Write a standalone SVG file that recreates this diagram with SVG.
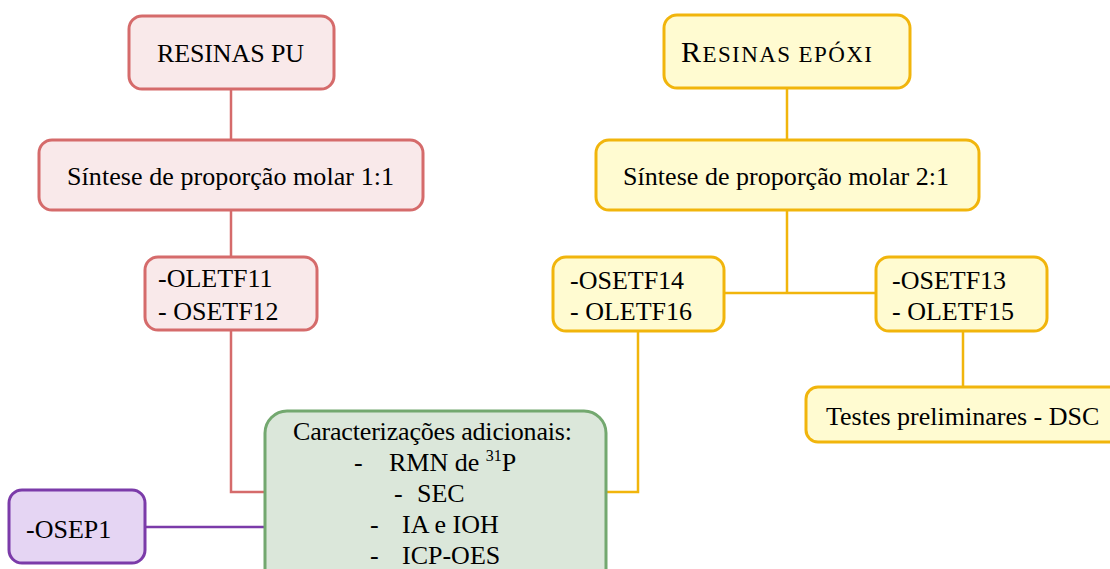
<svg xmlns="http://www.w3.org/2000/svg" width="1110" height="569" viewBox="0 0 1110 569">
<style>
text{font-family:"Liberation Serif","Times New Roman",serif;font-size:26px;fill:#000}
.r{fill:#f9e9ea;stroke:#d56b6b;stroke-width:3}
.y{fill:#fffbd1;stroke:#f1b50c;stroke-width:3}
.g{fill:#dbe7da;stroke:#73a86f;stroke-width:3}
.p{fill:#e5d5f3;stroke:#7b3ba9;stroke-width:3}
.lr{stroke:#d56b6b;stroke-width:2.5;fill:none}
.ly{stroke:#f1b50c;stroke-width:2.5;fill:none}
.lp{stroke:#7b3ba9;stroke-width:2.5;fill:none}
</style>
<rect width="1110" height="569" fill="#fff"/>
<g id="connectors">
<path class="lr" d="M231 89V140M231 210V257M231 330V492H265"/>
<path class="lp" d="M145 527H265"/>
<path class="ly" d="M787 89V140M787 210V293M724 293H876M638 331V492H606M963 331V387"/>
</g>
<g id="resinas-pu"><rect class="r" x="129" y="16" width="205" height="73" rx="13"/><text x="157" y="62" textLength="147">RESINAS PU</text></g>
<g id="sintese-11"><rect class="r" x="39" y="140" width="384" height="70" rx="13"/><text x="67" y="185" textLength="327">Síntese de proporção molar 1:1</text></g>
<g id="pu-amostras"><rect class="r" x="145" y="257" width="172" height="73" rx="13"/><text x="158" y="287">-OLETF11</text><text x="158" y="320">- OSETF12</text></g>
<g id="resinas-epoxi"><rect class="y" x="664" y="15" width="246" height="73" rx="13"/><text x="681" y="62" textLength="191"><tspan font-size="30">R</tspan><tspan font-size="23">ESINAS EPÓXI</tspan></text></g>
<g id="sintese-21"><rect class="y" x="596" y="140" width="383" height="70" rx="13"/><text x="623" y="185" textLength="326">Síntese de proporção molar 2:1</text></g>
<g id="epoxi-a"><rect class="y" x="553" y="257" width="171" height="74" rx="13"/><text x="570" y="289">-OSETF14</text><text x="570" y="320">- OLETF16</text></g>
<g id="epoxi-b"><rect class="y" x="876" y="257" width="171" height="74" rx="13"/><text x="892" y="289">-OSETF13</text><text x="892" y="320">- OLETF15</text></g>
<g id="testes"><rect class="y" x="806" y="387" width="320" height="55" rx="12"/><text x="826" y="425">Testes preliminares - DSC</text></g>
<g id="osep1"><rect class="p" x="9" y="490" width="136" height="73" rx="13"/><text x="26" y="538">-OSEP1</text></g>
<g id="caracterizacoes"><rect class="g" x="265" y="411" width="341" height="180" rx="22"/>
<text x="293" y="440" textLength="279">Caracterizações adicionais:</text>
<text x="354" y="471">-</text><text x="389" y="471">RMN de <tspan font-size="16" dy="-10">31</tspan><tspan dy="10">P</tspan></text>
<text x="394" y="502">-</text><text x="417" y="502">SEC</text>
<text x="370" y="533">-</text><text x="402" y="533">IA e IOH</text>
<text x="370" y="564">-</text><text x="402" y="564">ICP-OES</text>
</g>
</svg>
